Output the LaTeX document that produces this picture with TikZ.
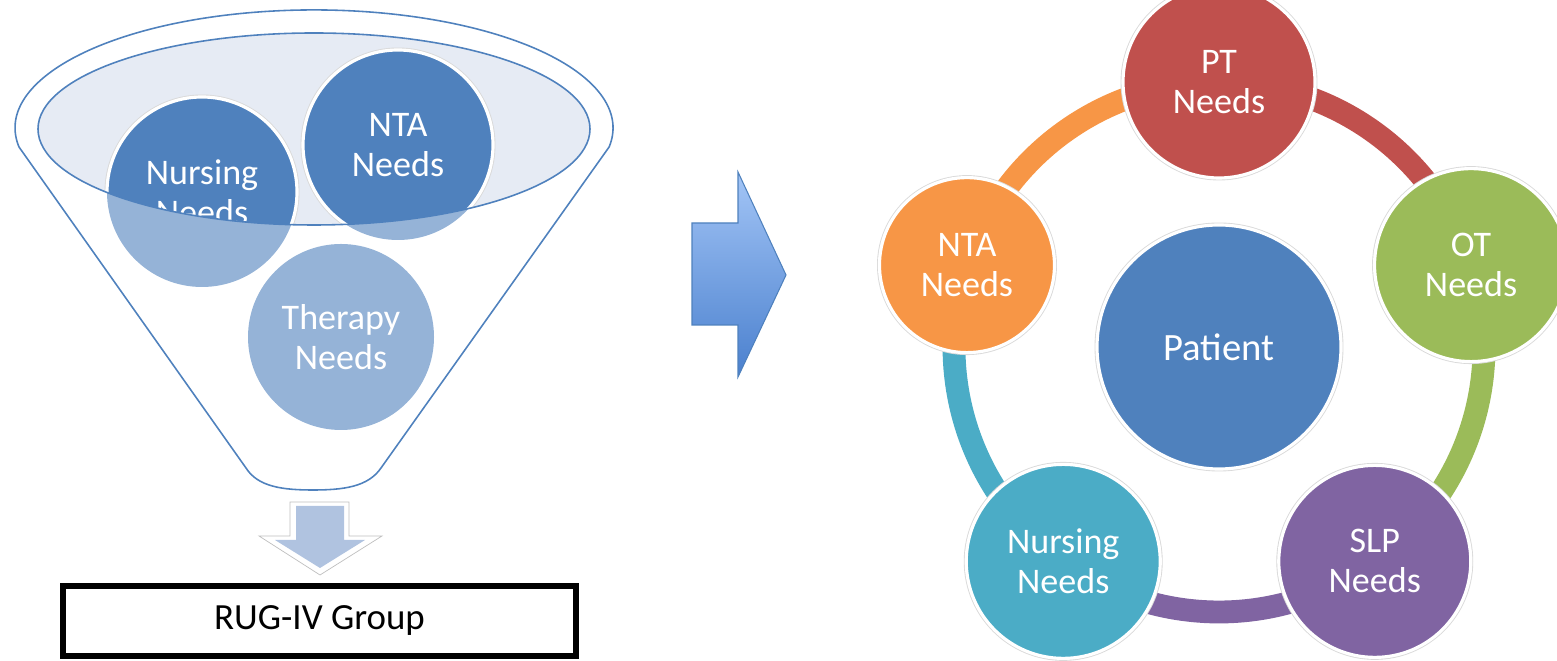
\documentclass[tikz,border=0pt]{standalone}
\usepackage{fontspec}
\setmainfont{Carlito}
\usetikzlibrary{backgrounds,calc}
\definecolor{needblue}{HTML}{4F81BD}
\definecolor{needlight}{HTML}{95B3D7}
\definecolor{bowlfill}{HTML}{E6EBF4}
\definecolor{ptred}{HTML}{C0504D}
\definecolor{otgreen}{HTML}{9BBB59}
\definecolor{slppurple}{HTML}{8064A2}
\definecolor{nursteal}{HTML}{4BACC6}
\definecolor{ntaorange}{HTML}{F79646}
\definecolor{downfill}{HTML}{B0C3E0}
\definecolor{arrowtop}{HTML}{A3C5F6}
\definecolor{arrowbot}{HTML}{4A80CE}
\newcommand\needfont{\fontsize{20.5}{22.7}\selectfont}
\tikzset{
  bubble/.style={circle, inner sep=0pt, minimum size=#1, align=center, text=white, font=\needfont},
  rimmed/.style={draw=white, line width=1.8pt, preaction={draw=black!15, line width=2.8pt}},
  ring/.style={line width=13pt},
}

\begin{document}
\begin{tikzpicture}[x=0.2mm, y=0.2mm]
		\useasboundingbox (0,0) rectangle (1557,661);
		%%%%% FUNNEL %%%%%
		
		\draw[needblue, line width=0.9pt, line join=round] (19,514) arc (189.3:-9.3:299 and 118) -- (381,193) .. controls (368,174) and (343,171) .. (313,171) .. controls (283,171) and (258,174) .. (246,193) -- cycle;
		
		\fill[bowlfill] (314,532) ellipse (276 and 96);
		\fill[needlight] (202,469) circle (95);
		\fill[needlight] (398,516) circle (95);
		
		\begin{scope}
			\clip (314,532) ellipse (276 and 96);
			\node[bubble=3.8cm, fill=needblue, rimmed] (nurseL) at (202,469) {Nursing\\Needs};
			\node[bubble=3.8cm, fill=needblue, rimmed] (ntaL) at (398,516) {NTA\\Needs};
		\end{scope}
		\draw[needblue, line width=0.9pt] (314,532) ellipse (276 and 96);
		
		\node[bubble=3.72cm, fill=needlight] (therapy) at (341,324) {Therapy\\Needs};
		
		\draw[black!25, line width=0.4pt, fill=white] (290,159) -- (349,159) -- (349,125) -- (382,125) -- (320,86) -- (259,125) -- (290,125) -- cycle;
		\fill[downfill] (296,155) -- (344,155) -- (344,121) -- (365,121) -- (320,93) -- (275,121) -- (296,121) -- cycle;
		
		\node[draw=black, line width=3pt, minimum width=10.26cm, minimum height=1.4cm, inner sep=0pt, font=\fontsize{21}{25}\selectfont] (rug) at (319.5,40) {RUG-IV Group};
		
		%%%%% ARROW %%%%%
		
		\shadedraw[top color=arrowtop, bottom color=arrowbot, draw=needblue, line width=0.6pt] (692,438) -- (738,438) -- (738,489) -- (786,386) -- (738,284) -- (738,336) -- (692,336) -- cycle;
		
		%%%%% CYCLE %%%%%
		
		\node[bubble=4.88cm, fill=needblue, rimmed, font=\fontsize{22}{26}\selectfont] (patient) at (1219,314) {Patient};
		\node[bubble=3.84cm, fill=ptred, rimmed] (pt) at ($(patient)+(90:265)$) {PT\\Needs};
		\node[bubble=3.86cm, fill=otgreen, rimmed] (ot) at ($(patient)+(18:265)$) {OT\\Needs};
		\node[bubble=3.84cm, fill=slppurple, rimmed] (slp) at ($(patient)+(-54:265)$) {SLP\\Needs};
		\node[bubble=3.88cm, fill=nursteal, rimmed] (nurseR) at ($(patient)+(-126:265)$) {Nursing\\Needs};
		\node[bubble=3.5cm, fill=ntaorange, rimmed] (ntaR) at ($(patient)+(162:265)$) {NTA\\Needs};
		
		\begin{pgfonlayer}{background}
			\draw[ring, ptred] (pt.center) arc (90:18:265);
			\draw[ring, otgreen] (ot.center) arc (18:-54:265);
			\draw[ring, slppurple] (slp.center) arc (-54:-126:265);
			\draw[ring, nursteal] (nurseR.center) arc (-126:-198:265);
			\draw[ring, ntaorange] (ntaR.center) arc (162:90:265);
		\end{pgfonlayer}
		
		%%%%% END %%%%%
\end{tikzpicture}
\end{document}
